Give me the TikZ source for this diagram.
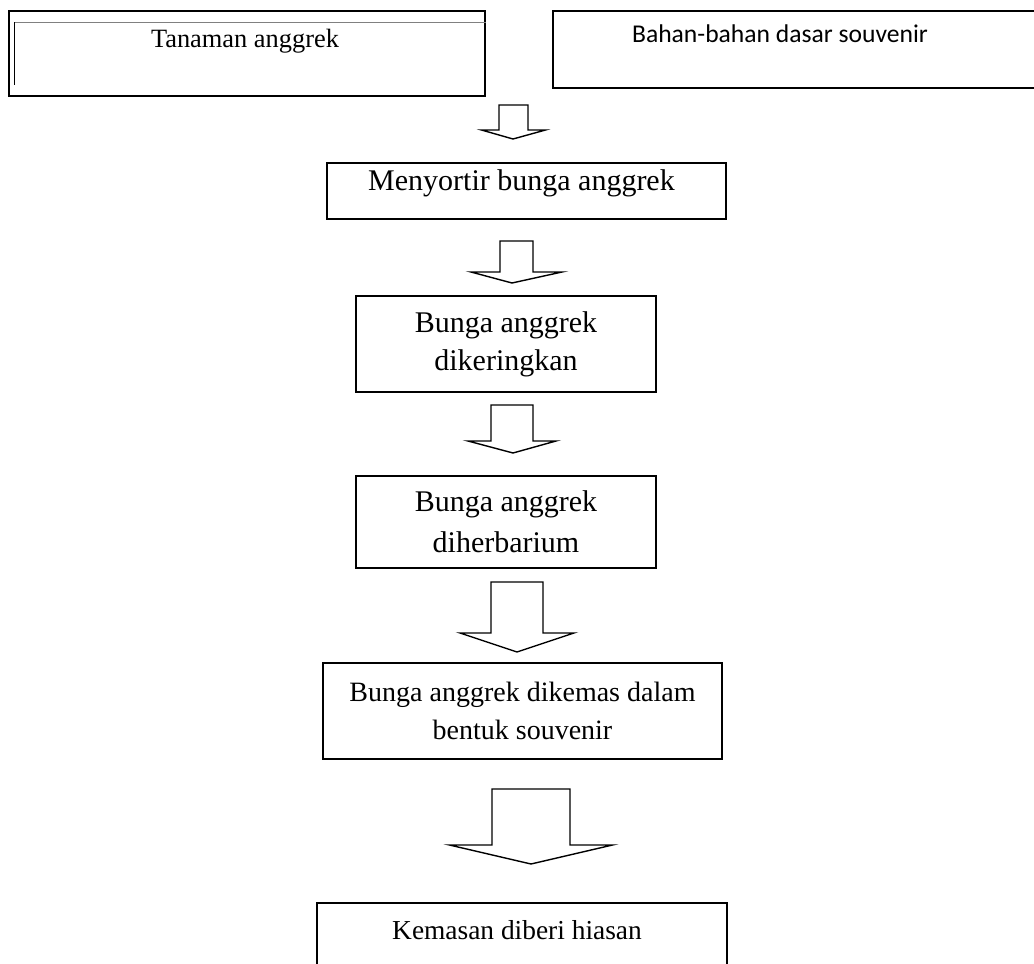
\documentclass[tikz,border=0pt]{standalone}
\usepackage{fontspec}
\setmainfont{Liberation Serif}
\newfontfamily\carlito{Carlito}
\usepackage{tikz}

\tikzset{
  box/.style={draw, line width=0.7pt, rectangle, inner sep=0pt, align=center,
    font=\fontsize{15}{19}\selectfont},
  txt/.style={inner sep=0pt, font=\fontsize{14}{19}\selectfont},
  blok/.style={draw, line width=0.7pt, fill=white, line join=miter},
}
% block arrow: shaft centre x, top y, half shaft, shoulder y, half wing, tip x, tip y
\newcommand{\blockarrow}[7]{%
  \draw[blok] (#1-#3,#2) -- (#1+#3,#2) -- (#1+#3,#4) -- (#1+#5,#4) -- (#6,#7)
    -- (#1-#5,#4) -- (#1-#3,#4) -- cycle;}

\begin{document}
\begin{tikzpicture}[x=0.5pt,y=-0.5pt]
        \useasboundingbox (0,0) rectangle (1034,964);
        \clip (0,0) rectangle (1034,964);

        % Input boxes
        \node[box, minimum width=238pt, minimum height=42.5pt] (tanaman) at (247,53.5) {};
        \draw[line width=0.3pt, gray] (14,22) -- (486,22);
        \draw[line width=0.4pt] (14,22) -- (14,85);
        \node[txt, font=\fontsize{13.2}{16}\selectfont] (tanamanT) at (245,41) {Tanaman anggrek};

        \node[box, minimum width=246pt, minimum height=38.5pt] (bahan) at (799,49.5) {};
        \node[txt, font=\carlito\fontsize{12.8}{15}\selectfont] (bahanT) at (780,34) {Bahan-bahan dasar souvenir};

        % Process steps
        \node[box, minimum width=199.5pt, minimum height=28pt] (sortir) at (526.5,191) {};
        \node[txt, font=\fontsize{15}{19}\selectfont] (sortirT) at (521.5,183) {Menyortir bunga anggrek};

        \node[box, minimum width=150pt, minimum height=48pt] (kering) at (506,344) {Bunga anggrek\\dikeringkan};
        \node[box, minimum width=150pt, minimum height=46pt,
          font=\fontsize{15}{20.5}\selectfont] (herbar) at (506,522) {Bunga anggrek\\diherbarium};
        \node[box, minimum width=199.5pt, minimum height=48pt,
          font=\fontsize{14}{19}\selectfont] (kemas) at (522.5,711) {Bunga anggrek dikemas dalam\\bentuk souvenir};

        \node[box, minimum width=205pt, minimum height=48.5pt] (hias) at (522,951.5) {};
        \node[txt, font=\fontsize{13.7}{17}\selectfont] (hiasT) at (517,930) {Kemasan diberi hiasan};

        % Block arrows
        \blockarrow{513.5}{105}{14.5}{130}{32}{513}{139}
        \blockarrow{516.5}{241}{16.5}{272}{45.5}{512}{283}
        \blockarrow{512}{405}{21}{441}{44}{513}{453}
        \blockarrow{517}{582}{26}{633}{57}{517}{652}
        \blockarrow{531}{789}{39}{845}{81.5}{531}{864}
    \end{tikzpicture}
\end{document}
